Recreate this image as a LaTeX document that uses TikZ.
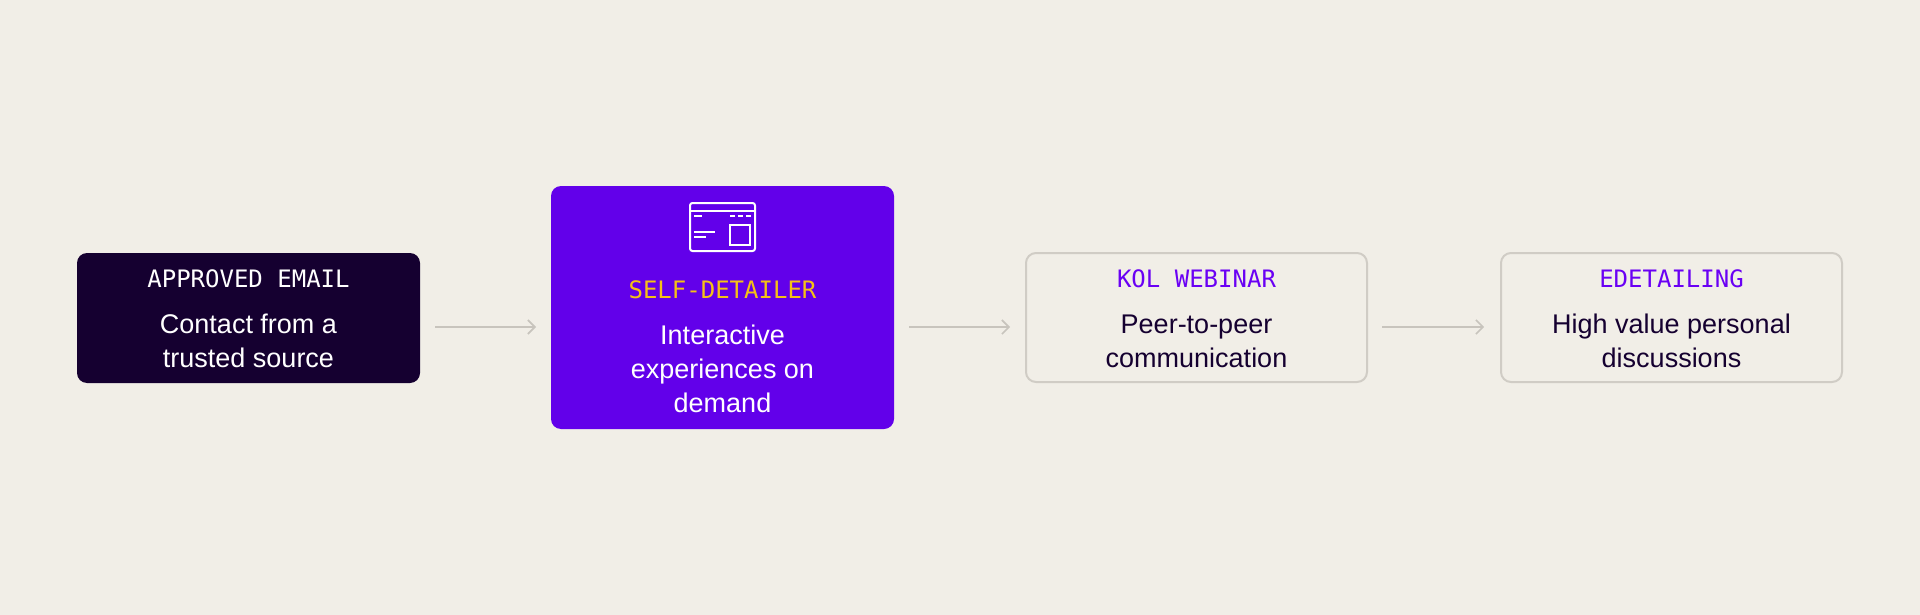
\documentclass[tikz,border=0pt]{standalone}
\usepackage{fontspec}
\setmainfont{Liberation Sans}
\newfontfamily\monof{DejaVu Sans Mono}
\usetikzlibrary{arrows.meta}
\definecolor{bg}{HTML}{F1EEE7}
\definecolor{dark}{HTML}{150030}
\definecolor{vio}{HTML}{6200EA}
\definecolor{vtxt}{HTML}{6A00F4}
\definecolor{yel}{HTML}{F5C116}
\definecolor{lbord}{HTML}{D0CCC5}
\definecolor{arr}{HTML}{C8C4BD}
\begin{document}
\begin{tikzpicture}[x=1pt,y=-1pt,
  boxs/.style={rounded corners=10pt},
  ttl/.style={font=\monof\fontsize{24}{28}\selectfont},
  bod/.style={font=\fontsize{27}{34}\selectfont,align=center},
  conn/.style={draw=arr,line width=1.6pt,-{Straight Barb[length=7pt,width=14pt]}}]
\useasboundingbox[fill=bg] (0,0) rectangle (1920,615);
\fill[dark,boxs] (77,253) rectangle (420,383);
\fill[vio,boxs] (551,186) rectangle (894,429);
\draw[lbord,line width=2pt,boxs] (1026,253) rectangle (1367,382);
\draw[lbord,line width=2pt,boxs] (1501,253) rectangle (1842,382);
\coordinate (b1) at (420,327); \coordinate (b2l) at (551,327);
\node[ttl,text=white] (t1) at (248.5,279) {APPROVED EMAIL};
\node[bod,text=white] (d1) at (248.5,341) {Contact from a\\trusted source};
\node[ttl,text=yel] (t2) at (722.5,290) {SELF-DETAILER};
\node[bod,text=white] (d2) at (722.5,369) {Interactive\\experiences on\\demand};
\node[ttl,text=vtxt] (t3) at (1196.5,279) {KOL WEBINAR};
\node[bod,text=dark] (d3) at (1196.5,341) {Peer-to-peer\\communication};
\node[ttl,text=vtxt] (t4) at (1671.5,279) {EDETAILING};
\node[bod,text=dark] (d4) at (1671.5,341) {High value personal\\discussions};
\coordinate (a1s) at (435,327); \coordinate (a1e) at (536,327);
\coordinate (a2s) at (909,327); \coordinate (a2e) at (1010,327);
\coordinate (a3s) at (1382,327); \coordinate (a3e) at (1484,327);
\draw[conn] (a1s) -- (a1e);
\draw[conn] (a2s) -- (a2e);
\draw[conn] (a3s) -- (a3e);
% icon
\begin{scope}[draw=white,line width=2pt]
\draw[rounded corners=2.5pt] (690,203) rectangle (755,251);
\draw (690,211) -- (755,211);
\draw (694,216) -- (702,216);
\draw (730,216) -- (735,216);
\draw (738,216) -- (743,216);
\draw (746,216) -- (751,216);
\draw (730,225) rectangle (750,245);
\draw (694,232) -- (715,232);
\draw (694,237) -- (706,237);
\end{scope}
\end{tikzpicture}
\end{document}
